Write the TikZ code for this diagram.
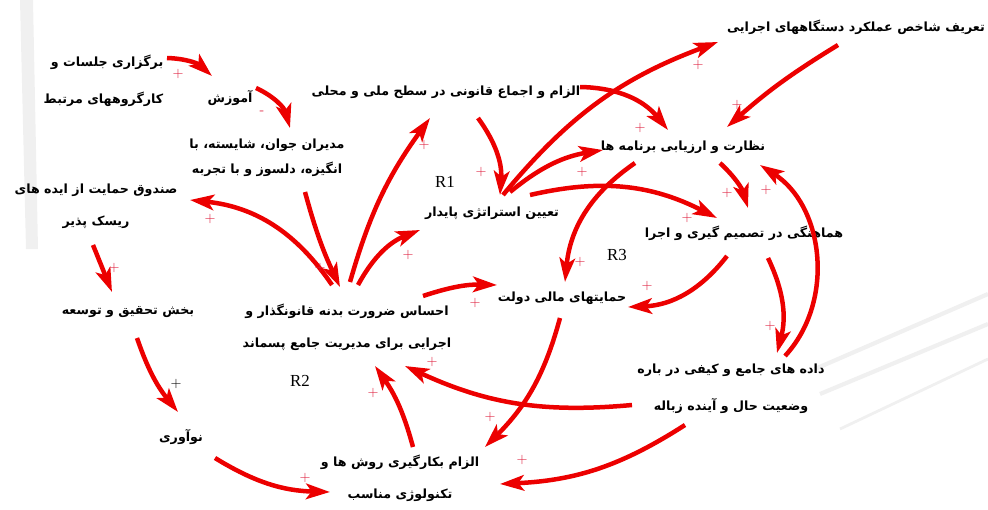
\documentclass[tikz,border=0pt]{standalone}
\usepackage{fontspec}
\usetikzlibrary{arrows.meta}
\TeXXeTstate=1
\newfontfamily\farsifont[Script=Arabic]{DejaVu Sans}
\newfontfamily\looplabelfont{Liberation Serif}
\definecolor{linkred}{RGB}{236,0,0}
\definecolor{signred}{RGB}{222,30,60}
\definecolor{streak}{RGB}{240,240,240}
\tikzset{
  var/.style={font=\farsifont\bfseries\fontsize{9}{22.5}\selectfont,inner sep=1pt,align=center},
  link/.style={draw=linkred,line width=3.2pt,-{Stealth[length=17pt,width=11pt,inset=4pt]}},
  sign/.style={text=signred,font=\fontsize{10}{10}\selectfont,inner sep=0pt},
  loopname/.style={font=\looplabelfont\fontsize{12}{12}\selectfont},
}
\newcommand{\fa}[1]{\beginR #1\endR}

\begin{document}
\begin{tikzpicture}[x=0.025cm,y=0.025cm]
  \useasboundingbox (0,0) rectangle (988,509);
  % faint slide background
  \fill[streak] (20,509) -- (33,509) -- (38,260) -- (26,260) -- cycle;
  \draw[streak,line width=3pt] (815,140) -- (988,215);
  \draw[streak,line width=3pt] (820,115) -- (988,185);
  \draw[streak,line width=2pt] (840,80) -- (988,150);

  % variables
  \node[var,align=right,anchor=east] (A) at (165,428) {\fa{برگزاری جلسات و}\\[4pt]\fa{کارگروههای  مرتبط}};
  \node[var] (B) at (230,411) {\fa{آموزش}};
  \node[var] (C) at (267,351) {\fa{مدیران جوان، شایسته، با}\\[-4.5pt]\fa{انگیزه، دلسوز و با تجربه}};
  \node[var] (D) at (446,417) {\fa{الزام و اجماع قانونی در سطح ملی و محلی}};
  \node[var] (E) at (856,482) {\fa{تعریف شاخص عملکرد دستگاههای اجرایی}};
  \node[var] (F) at (683,362) {\fa{نظارت و ارزیابی برنامه ها}};
  \node[var] (G) at (492,296) {\fa{تعیین استراتژی پایدار}};
  \node[var] (H) at (96,303) {\fa{صندوق حمایت از ایده های}\\\fa{ریسک پذیر}};
  \node[var] (I) at (744,276) {\fa{هماهنگی در تصمیم گیری و اجرا}};
  \node[var] (J) at (562,211) {\fa{حمایتهای مالی دولت}};
  \node[var] (K) at (128,197) {\fa{بخش تحقیق و توسعه}};
  \node[var] (L) at (347,182) {\fa{احساس ضرورت بدنه قانونگذار و}\\\fa{اجرایی برای مدیریت جامع پسماند}};
  \node[var] (M) at (731,120) {\fa{داده های جامع و کیفی در باره}\\[4pt]\fa{وضعیت حال و آینده زباله}};
  \node[var] (N) at (181,72) {\fa{نوآوری}};
  \node[var] (O) at (400,31) {\fa{الزام بکارگیری روش ها و}\\\fa{تکنولوژی مناسب}};

  \node[loopname] (R1) at (445,327) {R1};
  \node[loopname] (R2) at (300,128) {R2};
  \node[loopname] (R3) at (617,254) {R3};

  % causal links
  \draw[link] ([shift={(2,23)}]A.east) to[bend left=20] ([shift={(-18,22)}]B.center);
  \draw[link] ([shift={(26,10)}]B.center) to[bend left=25] ([shift={(23,30)}]C.center);
  \draw[link] ([shift={(38,-34)}]C.center) to[bend right=5] ([shift={(-7,40)}]L.center);
  \draw[link] ([shift={(-15,42)}]L.center) to[bend right=25] ([shift={(94,6)}]H.center);
  \draw[link] ([shift={(3,45)}]L.center) to[bend left=10] ([shift={(-16,-26)}]D.center);
  \draw[link] ([shift={(11,42)}]L.center) to[bend left=20] ([shift={(-72,-17)}]G.center);
  \draw[link] ([shift={(76,31)}]L.center) to[bend left=10] ([shift={(-65,13)}]J.center);
  \draw[link] ([shift={(32,-26)}]D.center) to[bend left=20] ([shift={(8,18)}]G.center);
  \draw[link] ([shift={(11,18)}]G.center) to[bend left=15] ([shift={(-138,-15)}]E.center);
  \draw[link] ([shift={(134,5)}]D.center) to[bend left=25] ([shift={(-15,17)}]F.center);
  \draw[link] ([shift={(18,21)}]G.center) to[bend left=15] ([shift={(-80,-3)}]F.center);
  \draw[link] ([shift={(-18,-18)}]E.center) to[bend right=5] ([shift={(44,20)}]F.center);
  \draw[link] ([shift={(38,18)}]G.center) to[bend left=20] ([shift={(-27,15)}]I.center);
  \draw[link] ([shift={(-48,-16)}]F.center) to[bend right=25] ([shift={(3,16)}]J.center);
  \draw[link] ([shift={(37,-16)}]F.center) to[bend left=15] ([shift={(4,25)}]I.center);
  \draw[link] ([shift={(54,33)}]M.center) to[bend right=50] ([shift={(77,-18)}]F.center);
  \draw[link] ([shift={(-17,-23)}]I.center) to[bend left=25] ([shift={(66,-9)}]J.center);
  \draw[link] ([shift={(24,-25)}]I.center) to[bend left=20] ([shift={(46,36)}]M.center);
  \draw[link] ([shift={(-99,-16)}]M.center) to[bend left=15] ([shift={(58,-39)}]L.center);
  \draw[link] ([shift={(-2,-20)}]J.center) to[bend left=15] ([shift={(85,31)}]O.center);
  \draw[link] ([shift={(-46,-36)}]M.center) to[bend left=15] ([shift={(100,-6)}]O.center);
  \draw[link] ([shift={(13,31)}]O.center) to[bend right=10] ([shift={(28,-39)}]L.center);
  \draw[link] ([shift={(-3,-39)}]H.center) -- ([shift={(-16,20)}]K.center);
  \draw[link] ([shift={(9,-26)}]K.center) to[bend right=10] ([shift={(-3,25)}]N.center);
  \draw[link] ([shift={(34,-21)}]N.center) to[bend right=15] ([shift={(-70,-14)}]O.center);

  % polarities
  \node[sign] (s1) at (178,435) {+};
  \node[sign] (s2) at (262,396) {-};
  \node[sign] (s3) at (320,241) {+};
  \node[sign] (s4) at (210,290) {+};
  \node[sign] (s5) at (424,364) {+};
  \node[sign] (s6) at (408,254) {+};
  \node[sign] (s7) at (475,206) {+};
  \node[sign] (s8) at (481,337) {+};
  \node[sign] (s9) at (698,444) {+};
  \node[sign] (s10) at (640,381) {+};
  \node[sign] (s11) at (582,337) {+};
  \node[sign] (s12) at (737,404) {+};
  \node[sign] (s13) at (687,291) {+};
  \node[sign] (s14) at (580,247) {+};
  \node[sign] (s15) at (727,316) {+};
  \node[sign] (s16) at (766,319) {+};
  \node[sign] (s17) at (647,223) {+};
  \node[sign] (s18) at (770,183) {+};
  \node[sign] (s19) at (432,147) {+};
  \node[sign] (s20) at (490,92) {+};
  \node[sign] (s21) at (522,49) {+};
  \node[sign] (s22) at (373,116) {+};
  \node[sign] (s23) at (114,241) {+};
  \node[sign,text=black] (s24) at (176,125) {+};
  \node[sign] (s25) at (305,31) {+};
\end{tikzpicture}
\end{document}
